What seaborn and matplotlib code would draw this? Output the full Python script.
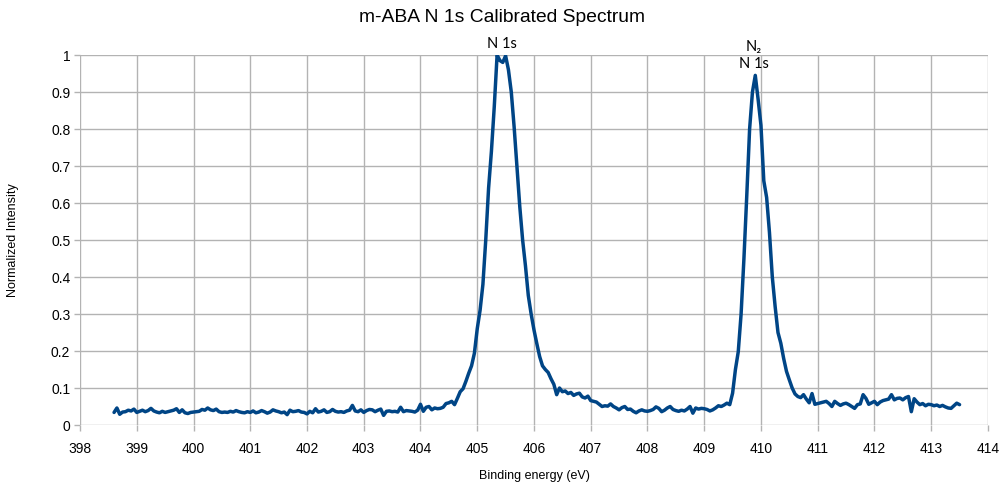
import numpy as np
import pandas as pd
import matplotlib
matplotlib.use("Agg")
import matplotlib.pyplot as plt
import seaborn as sns

# ---- data (binding energy grid: start + step * index) ----
energy_start = 398.60
energy_step = 0.05
intensity = [
    # 398.60 - 399.05
    0.034, 0.046, 0.029, 0.035, 0.036, 0.040, 0.038, 0.043, 0.034, 0.037,
    # 399.10 - 399.55
    0.040, 0.036, 0.039, 0.045, 0.038, 0.035, 0.033, 0.037, 0.034, 0.036,
    # 399.60 - 400.05
    0.038, 0.040, 0.044, 0.034, 0.041, 0.033, 0.031, 0.034, 0.035, 0.036,
    # 400.10 - 400.55
    0.037, 0.042, 0.040, 0.046, 0.041, 0.039, 0.043, 0.036, 0.034, 0.035,
    # 400.60 - 401.05
    0.034, 0.037, 0.035, 0.039, 0.036, 0.034, 0.033, 0.036, 0.034, 0.038,
    # 401.10 - 401.55
    0.033, 0.035, 0.039, 0.036, 0.032, 0.035, 0.041, 0.038, 0.036, 0.033,
    # 401.60 - 402.05
    0.035, 0.028, 0.040, 0.036, 0.037, 0.039, 0.035, 0.034, 0.030, 0.037,
    # 402.10 - 402.55
    0.033, 0.044, 0.035, 0.037, 0.041, 0.034, 0.036, 0.042, 0.037, 0.035,
    # 402.60 - 403.05
    0.036, 0.034, 0.038, 0.040, 0.053, 0.038, 0.036, 0.041, 0.034, 0.039,
    # 403.10 - 403.55
    0.042, 0.041, 0.036, 0.040, 0.043, 0.026, 0.037, 0.038, 0.036, 0.037,
    # 403.60 - 404.05
    0.035, 0.048, 0.036, 0.039, 0.038, 0.037, 0.035, 0.040, 0.056, 0.037,
    # 404.10 - 404.55
    0.048, 0.050, 0.041, 0.046, 0.044, 0.045, 0.048, 0.058, 0.060, 0.064,
    # 404.60 - 405.05
    0.055, 0.072, 0.090, 0.098, 0.118, 0.140, 0.160, 0.194, 0.260, 0.310,
    # 405.10 - 405.55
    0.380, 0.500, 0.640, 0.740, 0.860, 1.000, 0.985, 0.980, 0.998, 0.960,
    # 405.60 - 406.05
    0.900, 0.806, 0.700, 0.590, 0.500, 0.430, 0.350, 0.300, 0.257, 0.220,
    # 406.10 - 406.55
    0.185, 0.160, 0.150, 0.142, 0.125, 0.110, 0.082, 0.100, 0.090, 0.092,
    # 406.60 - 407.05
    0.085, 0.088, 0.080, 0.084, 0.086, 0.076, 0.073, 0.078, 0.066, 0.064,
    # 407.10 - 407.55
    0.062, 0.056, 0.050, 0.052, 0.051, 0.057, 0.050, 0.046, 0.041, 0.047,
    # 407.60 - 408.05
    0.050, 0.042, 0.043, 0.037, 0.033, 0.038, 0.041, 0.038, 0.037, 0.039,
    # 408.10 - 408.55
    0.042, 0.049, 0.045, 0.036, 0.040, 0.046, 0.050, 0.042, 0.039, 0.037,
    # 408.60 - 409.05
    0.040, 0.038, 0.043, 0.050, 0.032, 0.046, 0.043, 0.045, 0.044, 0.042,
    # 409.10 - 409.55
    0.038, 0.041, 0.046, 0.052, 0.050, 0.054, 0.059, 0.055, 0.086, 0.150,
    # 409.60 - 410.05
    0.198, 0.300, 0.450, 0.620, 0.800, 0.900, 0.945, 0.880, 0.810, 0.660,
    # 410.10 - 410.55
    0.615, 0.520, 0.400, 0.320, 0.250, 0.221, 0.180, 0.145, 0.122, 0.100,
    # 410.60 - 411.05
    0.084, 0.077, 0.074, 0.082, 0.070, 0.060, 0.085, 0.056, 0.058, 0.060,
    # 411.10 - 411.55
    0.062, 0.064, 0.058, 0.050, 0.064, 0.058, 0.053, 0.057, 0.059, 0.055,
    # 411.60 - 412.05
    0.050, 0.045, 0.055, 0.057, 0.082, 0.072, 0.056, 0.060, 0.064, 0.055,
    # 412.10 - 412.55
    0.062, 0.066, 0.068, 0.070, 0.082, 0.068, 0.072, 0.073, 0.068, 0.074,
    # 412.60 - 413.05
    0.077, 0.036, 0.071, 0.062, 0.055, 0.058, 0.052, 0.056, 0.055, 0.052,
    # 413.10 - 413.50
    0.054, 0.050, 0.053, 0.049, 0.046, 0.045, 0.052, 0.059, 0.055,
]
energy = np.round(energy_start + energy_step * np.arange(len(intensity)), 2)

x_ticks = list(range(398, 415))
y_ticks = [0, 0.1, 0.2, 0.3, 0.4, 0.5, 0.6, 0.7, 0.8, 0.9, 1]
y_tick_labels = ["0", "0.1", "0.2", "0.3", "0.4", "0.5", "0.6", "0.7", "0.8", "0.9", "1"]

peak_labels = ["N 1s", "N\u2082\nN 1s"]
peak_label_x = [405.44, 409.88]
peak_label_y = [1.0, 0.945]

title = "m-ABA N 1s Calibrated Spectrum"
x_label = "Binding energy (eV)"
y_label = "Normalized Intensity"

df = pd.DataFrame({"energy": energy, "intensity": intensity})

# ---- style ----
sns.set_theme(style="whitegrid")
plt.rcParams["font.family"] = ["Liberation Sans", "DejaVu Sans"]

fig = plt.figure(figsize=(10.04, 4.86), dpi=100)
ax = fig.add_axes([0.0797, 0.1255, 0.9043, 0.7613])

sns.lineplot(data=df, x="energy", y="intensity", ax=ax, color="#004586",
             linewidth=2.5, zorder=3)

ax.set_xlim(398, 414)
ax.set_ylim(0, 1)
ax.set_xticks(x_ticks)
ax.set_xticklabels([str(t) for t in x_ticks])
ax.set_yticks(y_ticks)
ax.set_yticklabels(y_tick_labels)

grid_color = "#b3b3b3"
ax.grid(True, color=grid_color, linewidth=1.0)
for s in ax.spines.values():
    s.set_visible(False)
ax.tick_params(axis="both", which="major", length=4, width=1, color=grid_color,
               labelsize=10, labelcolor="#000000", direction="out",
               bottom=True, left=True)
ax.tick_params(axis="x", pad=8)
ax.tick_params(axis="y", pad=3)

fig.text(0.5, 1 - 18 / 486, title, ha="center", va="center",
         fontsize=13.9, color="#000000")
ax.set_xlabel(x_label, fontsize=9, color="#000000", labelpad=10)
ax.set_ylabel(y_label, fontsize=9, color="#000000", labelpad=23)

for lab, lx, ly in zip(peak_labels, peak_label_x, peak_label_y):
    ax.annotate(lab, xy=(lx, ly), xytext=(0, 3), textcoords="offset points",
                ha="center", va="bottom", fontsize=10.5, color="#000000",
                family=["Lato", "DejaVu Sans"], linespacing=1.3,
                annotation_clip=False)

fig.savefig("out.png", dpi=100)
